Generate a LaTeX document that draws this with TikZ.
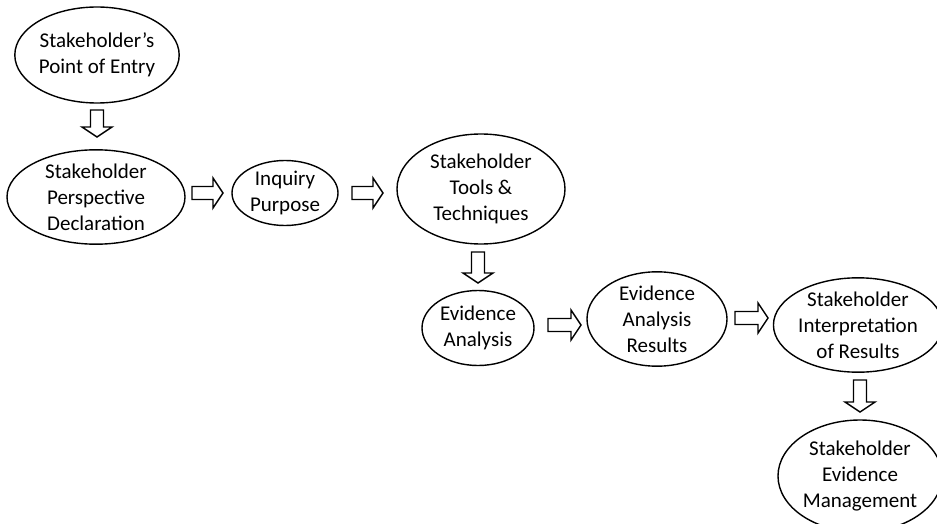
\documentclass[tikz,border=0pt]{standalone}
\usepackage{fontspec}
\setmainfont{Carlito}
\usetikzlibrary{shapes.geometric}
\begin{document}
\begin{tikzpicture}[x=1pt,y=-1pt,
  el/.style={draw, ellipse, line width=1.4pt, align=center, inner sep=0pt,
    font=\fontsize{21}{26}\selectfont},
  blk/.style={draw, line width=1.4pt, line join=miter},
  rarrow/.pic={\draw[blk] (0,-6.5) -- (#1-10,-6.5) -- (#1-10,-15) -- (#1,0) -- (#1-10,15) -- (#1-10,6.5) -- (0,6.5) -- cycle;},
  darrow/.pic={\draw[blk] (-6.5,0) -- (-6.5,#1-10) -- (-15,#1-10) -- (0,#1) -- (15,#1-10) -- (6.5,#1-10) -- (6.5,0) -- cycle;}]
\clip (0,0) rectangle (937,524);
\node[el, minimum width=163pt, minimum height=96pt] (e1) at (97,55) {Stakeholder’s\\Point of Entry};
\node[el, minimum width=178pt, minimum height=92pt] (e2) at (96,197) {Stakeholder\\Perspective\\Declaration};
\node[el, minimum width=106pt, minimum height=65pt] (e3) at (285,193) {Inquiry\\Purpose};
\node[el, minimum width=168pt, minimum height=110pt] (e4) at (481,189) {Stakeholder\\Tools \&\\Techniques};
\node[el, minimum width=112pt, minimum height=75pt] (e5) at (478,328) {Evidence\\Analysis};
\node[el, minimum width=140pt, minimum height=92pt] (e6) at (657,319) {Evidence\\Analysis\\Results};
\node[el, minimum width=153pt, minimum height=88pt] (e7) at (858,325) {Stakeholder\\Interpretation\\of Results};
\node[el, minimum width=164pt, minimum height=112pt] (e8) at (860,476) {Stakeholder\\Evidence\\Management};
\pic at (97,110) {darrow=27};
\pic at (192,193) {rarrow=31};
\pic at (352,193) {rarrow=31};
\pic at (478,252) {darrow=31};
\pic at (548,325) {rarrow=33};
\pic at (735,318) {rarrow=33};
\pic at (860,380) {darrow=32};
\end{tikzpicture}
\end{document}
